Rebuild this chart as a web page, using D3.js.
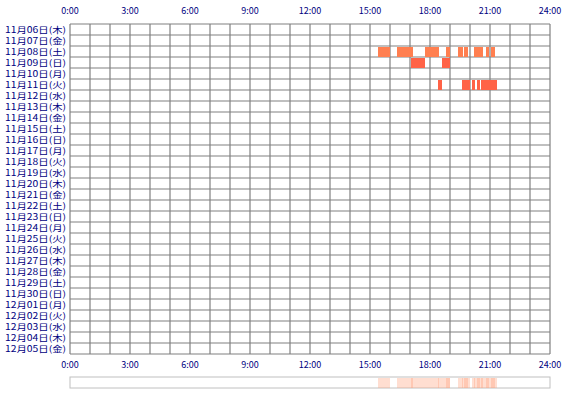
<!DOCTYPE html>
<html><head><meta charset="utf-8">
<script src="https://cdn.jsdelivr.net/npm/d3@7"></script>
<style>body{margin:0;background:#fff}</style>
</head><body>
<svg id="chart" width="570" height="400"></svg>
<script>
// day labels, one per row
const days = ["11月06日(木)","11月07日(金)","11月08日(土)","11月09日(日)","11月10日(月)","11月11日(火)","11月12日(水)",
  "11月13日(木)","11月14日(金)","11月15日(土)","11月16日(日)","11月17日(月)","11月18日(火)","11月19日(水)",
  "11月20日(木)","11月21日(金)","11月22日(土)","11月23日(日)","11月24日(月)","11月25日(火)","11月26日(水)",
  "11月27日(木)","11月28日(金)","11月29日(土)","11月30日(日)","12月01日(月)","12月02日(火)","12月03日(水)",
  "12月04日(木)","12月05日(金)"];
const hourTicks = [0,3,6,9,12,15,18,21,24];
// activity spans: [day index, start hour, end hour]
const spans = [
  [2,15.4,16.0],[2,16.35,17.15],[2,17.75,18.45],[2,18.8,19.0],[2,19.4,19.65],[2,19.7,19.9],
  [2,20.2,20.65],[2,20.8,20.95],[2,21.05,21.25],
  [3,17.05,17.75],[3,18.6,19.0],
  [5,18.4,18.6],[5,19.6,20.0],[5,20.1,20.25],[5,20.35,20.5],[5,20.55,21.35]
];

const svg = d3.select("#chart");
const x = d3.scaleLinear().domain([0,24]).range([70,550]);
const y = d3.scaleBand().domain(days).range([24,354]);
const font = "'Noto Sans CJK JP', sans-serif";

// grid
svg.selectAll(".vline").data(d3.range(0,25)).enter().append("line")
  .attr("x1",d=>x(d)).attr("x2",d=>x(d)).attr("y1",24).attr("y2",354)
  .attr("stroke","#808080").attr("stroke-width",1.2);
svg.selectAll(".hline").data(d3.range(0,31)).enter().append("line")
  .attr("x1",70).attr("x2",550).attr("y1",d=>24+d*y.step()).attr("y2",d=>24+d*y.step())
  .attr("stroke","#808080").attr("stroke-width",1.2);

// bars
svg.selectAll(".bar").data(spans).enter().append("rect")
  .attr("x",d=>x(d[1])).attr("width",d=>x(d[2])-x(d[1]))
  .attr("y",d=>y(days[d[0]])+1).attr("height",y.bandwidth()-1)
  .attr("fill",d=>d[0]===2?"#ff7f50":"#ff6347");

// day labels
svg.selectAll(".day").data(days).enter().append("text")
  .attr("x",66).attr("y",d=>y(d)+y.bandwidth()/2+3.5)
  .attr("text-anchor","end").attr("font-size",8.5).attr("font-family",font)
  .attr("textLength",61).attr("lengthAdjust","spacingAndGlyphs")
  .attr("fill","#000080").text(d=>d);

// hour labels top and bottom
[14,368].forEach(ty=>{
  svg.selectAll(null).data(hourTicks).enter().append("text")
    .attr("x",d=>x(d)).attr("y",ty).attr("text-anchor","middle")
    .attr("font-size",9).attr("font-family",font).attr("fill","#000080")
    .text(d=>d+":00");
});

// summary strip
svg.append("rect").attr("x",70).attr("y",377).attr("width",480).attr("height",11)
  .attr("fill","#fff").attr("stroke","#c0c0c0");
svg.selectAll(".sum").data(spans).enter().append("rect")
  .attr("x",d=>x(d[1])).attr("width",d=>x(d[2])-x(d[1]))
  .attr("y",378).attr("height",10).attr("fill","#ffa07a").attr("opacity",0.35);
</script>
</body></html>
